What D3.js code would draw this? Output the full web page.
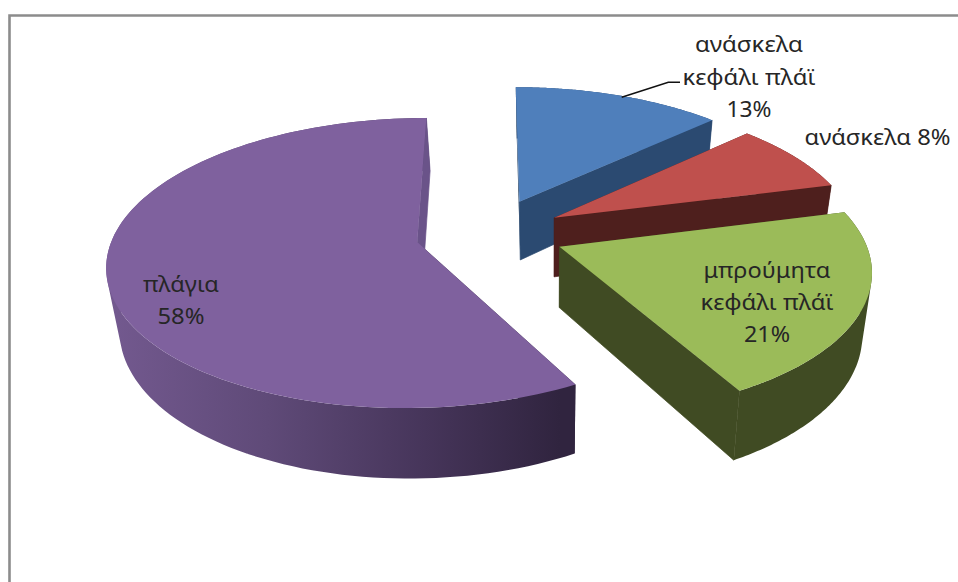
<!DOCTYPE html>
<html>
<head>
<meta charset="utf-8">
<script src="https://cdnjs.cloudflare.com/ajax/libs/d3/7.8.5/d3.min.js"></script>
<style>
  html, body { margin: 0; padding: 0; background: #fff; }
  svg { display: block; }
  text { font-family: "Noto Sans", sans-serif; font-size: 22px; fill: #262626; text-anchor: middle; }
</style>
</head>
<body>
<svg id="chart" width="958" height="582"></svg>
<script>
// Slice data, clockwise from twelve o'clock
const categories = ["ανάσκελα κεφάλι πλάϊ", "ανάσκελα", "μπρούμητα κεφάλι πλάϊ", "πλάγια"];
const shares = [13, 8, 21, 58];

// Label wrapping: each entry lists the lines above the percentage
const labelLines = [["ανάσκελα", "κεφάλι πλάϊ"], [], ["μπρούμητα", "κεφάλι πλάϊ"], ["πλάγια"]];

// Colours for the top face, the curved wall and the two cut faces
const topColors = ["#4f7fbb", "#bf504d", "#9bbb59", "#7f619e"];
const wallColors = ["#2b4a71", "#4e1f1d", "#404b23", "url(#purpleWall)"];
const startCutColors = ["#1f3c5e", "#4e1f1d", "#404b23", "#30243f"];
const endCutColors = ["#2b4a71", "#4e1f1d", "#404b23", "#6a5389"];

// Explosion of each slice on the ground plane, in units of the radius
const explodeU = [0.100, 0.215, 0.226, -0.238];
const explodeV = [-0.295, -0.175, 0.033, 0];

// Perspective projection of the disc plane
const view = { vx: 490, y0: 242, rx: 306, ry: 142, p: 0.145 };
const floor = { vx: 550, kx: 0.97, ky: 1.06, dy: 46 };

const project = (u, v) => {
  const s = 1 / (1 - view.p * v);
  return [view.vx + view.rx * u * s, view.y0 + view.ry * v * s];
};
const drop = ([x, y]) => [floor.vx + (x - floor.vx) * floor.kx, y * floor.ky + floor.dy];

const svg = d3.select("#chart");

const defs = svg.append("defs");
const grad = defs.append("linearGradient").attr("id", "purpleWall")
  .attr("gradientUnits", "userSpaceOnUse")
  .attr("x1", 110).attr("x2", 560).attr("y1", 0).attr("y2", 0);
[[0, "#73598f"], [0.35, "#5f4a78"], [0.7, "#46355a"], [1, "#30243f"]].forEach(([o, c]) =>
  grad.append("stop").attr("offset", o).attr("stop-color", c));

// Chart frame, running off the right and bottom
svg.append("path")
  .attr("d", d3.line()([[9.5, 582], [9.5, 15.5], [958, 15.5]]))
  .attr("fill", "none").attr("stroke", "#8c8c8c").attr("stroke-width", 2.6);

const pie = d3.pie().sort(null).value(d => d)(shares);
const line = d3.line();

pie.forEach((slice, i) => {
  const u0 = explodeU[i], v0 = explodeV[i];
  const at = a => project(u0 + Math.sin(a), v0 - Math.cos(a));
  const apex = project(u0, v0);
  const rim = d3.range(0, 121).map(k =>
    at(d3.interpolateNumber(slice.startAngle, slice.endAngle)(k / 120)));
  const first = rim[0], last = rim[rim.length - 1];

  const g = svg.append("g").attr("class", "slice");

  g.append("path").attr("d", line([first, drop(first), drop(apex), apex]) + "Z").attr("fill", startCutColors[i]);

  // Curved wall as one path of uniformly wound quads, so it stays closed where the rim turns
  const wall = d3.pairs(rim).map(([a, b]) => {
    const quad = [a, b, drop(b), drop(a)];
    return line(d3.polygonArea(quad) < 0 ? quad.reverse() : quad) + "Z";
  }).join("");
  g.append("path").attr("d", wall).attr("fill", wallColors[i]);

  // A hairline stroke closes the seam between the cut face and the wall
  g.append("path").attr("d", line([apex, last, drop(last), drop(apex)]) + "Z")
    .attr("fill", endCutColors[i]).attr("stroke", endCutColors[i]).attr("stroke-width", 0.7);
  g.append("path").attr("d", line([apex].concat(rim)) + "Z").attr("fill", topColors[i]);
});

// Leader line for the first slice
svg.append("path")
  .attr("d", line([[621.7, 97.3], [668.3, 82.3], [680, 82.3]]))
  .attr("fill", "none").attr("stroke", "#111").attr("stroke-width", 1.5);

// Data labels, each line fitted to its measured run length
const labelAt = [
  { x: 749, y: 52, step: 32.5 },
  { x: 877.5, y: 145, step: 0 },
  { x: 767, y: 278, step: 32 },
  { x: 181, y: 291.5, step: 32 }
];
const runLength = new Map([
  ["ανάσκελα", 108], ["κεφάλι πλάϊ", 133], ["μπρούμητα", 127], ["πλάγια", 76],
  ["ανάσκελα 8%", 146], ["13%", 45], ["21%", 46], ["58%", 47]
]);
const pct = d => `${d}%`;
shares.forEach((v, i) => {
  const pos = labelAt[i];
  const lines = labelLines[i].length ? labelLines[i].concat(pct(v)) : [`${categories[i]} ${pct(v)}`];
  const t = svg.append("text").attr("class", "label");
  lines.forEach((s, k) => t.append("tspan")
    .attr("x", pos.x).attr("y", pos.y + k * pos.step)
    .attr("textLength", runLength.get(s)).attr("lengthAdjust", "spacingAndGlyphs")
    .text(s));
});
</script>
</body>
</html>
